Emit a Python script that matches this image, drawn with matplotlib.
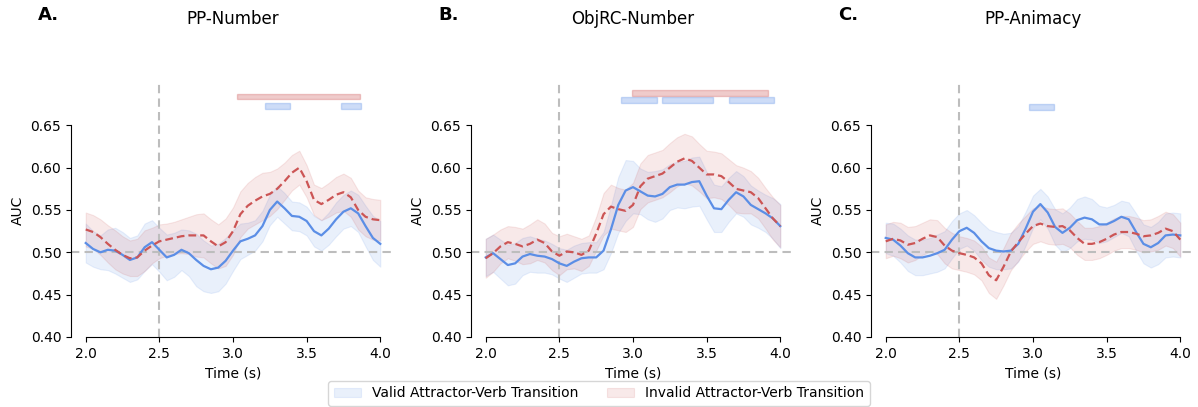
import numpy as np
import matplotlib
matplotlib.use("Agg")
import matplotlib.pyplot as plt
from matplotlib.patches import Rectangle

# Decoding time axis (s), sampled every 50 ms
time = np.linspace(2.0, 4.0, 41)

titles = ["PP-Number", "ObjRC-Number", "PP-Animacy"]
panel_letters = ["A.", "B.", "C."]

# ---- PP-Number ----
pp_num_valid = [0.511, 0.504, 0.500, 0.503, 0.502, 0.497, 0.491, 0.494, 0.506, 0.512,
                0.503, 0.494, 0.497, 0.503, 0.499, 0.491, 0.484, 0.480, 0.482, 0.490,
                0.502, 0.513, 0.516, 0.520, 0.531, 0.550, 0.560, 0.552, 0.543, 0.542,
                0.537, 0.525, 0.520, 0.528, 0.539, 0.548, 0.552, 0.546, 0.531, 0.517,
                0.510]
pp_num_valid_ci = [0.023, 0.021, 0.020, 0.024, 0.027, 0.027, 0.026, 0.026, 0.028, 0.026,
                   0.026, 0.027, 0.026, 0.024, 0.027, 0.031, 0.030, 0.028, 0.028, 0.027,
                   0.024, 0.021, 0.019, 0.018, 0.018, 0.018, 0.018, 0.018, 0.017, 0.017,
                   0.017, 0.018, 0.018, 0.019, 0.020, 0.020, 0.021, 0.022, 0.024, 0.026,
                   0.027]
pp_num_invalid = [0.527, 0.524, 0.518, 0.510, 0.503, 0.497, 0.493, 0.494, 0.502, 0.508,
                  0.513, 0.515, 0.517, 0.519, 0.520, 0.520, 0.520, 0.513, 0.507, 0.512,
                  0.525, 0.545, 0.555, 0.561, 0.566, 0.569, 0.575, 0.584, 0.594, 0.600,
                  0.584, 0.562, 0.557, 0.562, 0.568, 0.571, 0.565, 0.550, 0.542, 0.539,
                  0.538]
pp_num_invalid_ci = [0.020, 0.020, 0.021, 0.022, 0.023, 0.022, 0.021, 0.022, 0.024, 0.021,
                     0.020, 0.019, 0.019, 0.020, 0.022, 0.025, 0.026, 0.026, 0.026, 0.028,
                     0.028, 0.027, 0.027, 0.028, 0.028, 0.026, 0.024, 0.022, 0.021, 0.020,
                     0.019, 0.018, 0.019, 0.020, 0.021, 0.022, 0.023, 0.023, 0.023, 0.024,
                     0.024]

# ---- ObjRC-Number ----
objrc_num_valid = [0.494, 0.499, 0.492, 0.485, 0.487, 0.495, 0.498, 0.496, 0.495, 0.492,
                   0.487, 0.484, 0.489, 0.493, 0.494, 0.494, 0.502, 0.527, 0.556, 0.573,
                   0.577, 0.572, 0.567, 0.566, 0.569, 0.577, 0.580, 0.580, 0.583, 0.584,
                   0.567, 0.552, 0.551, 0.562, 0.571, 0.566, 0.556, 0.551, 0.546, 0.540,
                   0.531]
objrc_num_valid_ci = [0.022, 0.022, 0.023, 0.024, 0.024, 0.022, 0.021, 0.020, 0.019, 0.018,
                      0.018, 0.019, 0.019, 0.018, 0.018, 0.018, 0.022, 0.028, 0.033, 0.036,
                      0.031, 0.027, 0.028, 0.030, 0.029, 0.027, 0.027, 0.028, 0.029, 0.029,
                      0.028, 0.028, 0.027, 0.026, 0.025, 0.024, 0.023, 0.022, 0.022, 0.024,
                      0.026]
objrc_num_invalid = [0.493, 0.499, 0.507, 0.512, 0.510, 0.507, 0.510, 0.515, 0.511, 0.501,
                     0.496, 0.501, 0.500, 0.497, 0.502, 0.522, 0.545, 0.554, 0.551, 0.549,
                     0.556, 0.578, 0.587, 0.590, 0.593, 0.600, 0.607, 0.611, 0.608, 0.600,
                     0.592, 0.592, 0.590, 0.583, 0.575, 0.573, 0.571, 0.564, 0.552, 0.540,
                     0.531]
objrc_num_invalid_ci = [0.023, 0.022, 0.020, 0.019, 0.020, 0.021, 0.023, 0.024, 0.023, 0.022,
                        0.023, 0.021, 0.019, 0.019, 0.018, 0.020, 0.025, 0.026, 0.025, 0.025,
                        0.026, 0.027, 0.028, 0.028, 0.028, 0.029, 0.029, 0.029, 0.029, 0.028,
                        0.028, 0.027, 0.027, 0.027, 0.028, 0.027, 0.025, 0.024, 0.024, 0.025,
                        0.025]

# ---- PP-Animacy ----
pp_anim_valid = [0.517, 0.515, 0.508, 0.499, 0.494, 0.494, 0.496, 0.499, 0.503, 0.515,
                 0.525, 0.529, 0.523, 0.513, 0.505, 0.502, 0.501, 0.502, 0.510, 0.528,
                 0.548, 0.557, 0.547, 0.530, 0.523, 0.529, 0.538, 0.541, 0.539, 0.533,
                 0.533, 0.537, 0.542, 0.539, 0.524, 0.510, 0.506, 0.511, 0.520, 0.521,
                 0.520]
pp_anim_valid_ci = [0.018, 0.019, 0.020, 0.021, 0.021, 0.021, 0.021, 0.022, 0.022, 0.022,
                    0.021, 0.021, 0.021, 0.022, 0.022, 0.022, 0.021, 0.021, 0.021, 0.020,
                    0.019, 0.018, 0.019, 0.021, 0.023, 0.024, 0.025, 0.025, 0.024, 0.022,
                    0.020, 0.019, 0.019, 0.020, 0.022, 0.023, 0.024, 0.025, 0.026, 0.026,
                    0.026]
pp_anim_invalid = [0.513, 0.516, 0.514, 0.509, 0.511, 0.516, 0.520, 0.518, 0.508, 0.502,
                   0.499, 0.497, 0.494, 0.487, 0.473, 0.467, 0.483, 0.501, 0.512, 0.522,
                   0.531, 0.534, 0.531, 0.530, 0.531, 0.526, 0.517, 0.510, 0.510, 0.512,
                   0.516, 0.521, 0.524, 0.524, 0.522, 0.519, 0.520, 0.523, 0.528, 0.525,
                   0.515]
pp_anim_invalid_ci = [0.020, 0.020, 0.021, 0.021, 0.020, 0.019, 0.019, 0.020, 0.021, 0.021,
                      0.020, 0.020, 0.020, 0.020, 0.021, 0.022, 0.022, 0.022, 0.022, 0.021,
                      0.021, 0.021, 0.021, 0.021, 0.021, 0.020, 0.020, 0.019, 0.019, 0.019,
                      0.019, 0.019, 0.019, 0.019, 0.019, 0.019, 0.019, 0.020, 0.020, 0.020,
                      0.020]

# Significant clusters (start, end) in seconds
pp_num_valid_clusters = [(3.22, 3.39), (3.73, 3.87)]
pp_num_invalid_clusters = [(3.03, 3.86)]
objrc_num_valid_clusters = [(2.92, 3.165), (3.195, 3.54), (3.65, 3.955)]
objrc_num_invalid_clusters = [(2.99, 3.92)]
pp_anim_valid_clusters = [(2.97, 3.14)]
pp_anim_invalid_clusters = []

panels = [
    (pp_num_valid, pp_num_valid_ci, pp_num_invalid, pp_num_invalid_ci,
     pp_num_valid_clusters, pp_num_invalid_clusters),
    (objrc_num_valid, objrc_num_valid_ci, objrc_num_invalid, objrc_num_invalid_ci,
     objrc_num_valid_clusters, objrc_num_invalid_clusters),
    (pp_anim_valid, pp_anim_valid_ci, pp_anim_invalid, pp_anim_invalid_ci,
     pp_anim_valid_clusters, pp_anim_invalid_clusters),
]

# vertical placement of the cluster bars (bottom of valid bar, bottom of invalid bar)
bar_levels = [(0.6695, 0.6810), (0.6765, 0.6850), (0.6685, 0.6810)]
bar_height = 0.0065

VALID_C = "#5b8ee6"
INVALID_C = "#cc5555"
REF_C = "#bdbdbd"

fig = plt.figure(figsize=(11.98, 4.07), dpi=100)
W, H = 1198, 407
ax_lefts = [71, 471, 871]
ax_w = 324
ax_bottom = 1 - 337 / H
ax_h = (337 - 83) / H

handles = None
for i, (vm, vci, im, ici, vcl, icl) in enumerate(panels):
    ax = fig.add_axes([ax_lefts[i] / W, ax_bottom, ax_w / W, ax_h])
    vm, vci, im, ici = map(np.asarray, (vm, vci, im, ici))

    hv = ax.fill_between(time, vm - vci, vm + vci, color=VALID_C, alpha=0.13,
                         linewidth=0.8, label="Valid Attractor-Verb Transition")
    hi = ax.fill_between(time, im - ici, im + ici, color=INVALID_C, alpha=0.13,
                         linewidth=0.8, label="Invalid Attractor-Verb Transition")
    ax.plot(time, vm, color=VALID_C, lw=1.6, zorder=4)
    ax.plot(time, im, color=INVALID_C, lw=1.6, ls=(0, (3.5, 1.8)), zorder=4)

    ax.axhline(0.5, color=REF_C, lw=1.5, ls=(0, (4, 2.5)), zorder=1)
    ax.axvline(2.5, color=REF_C, lw=1.5, ls=(0, (4, 2.5)), zorder=1)

    v_lvl, i_lvl = bar_levels[i]
    for (s, e) in vcl:
        ax.add_patch(Rectangle((s, v_lvl), e - s, bar_height, facecolor=VALID_C,
                               alpha=0.3, edgecolor=VALID_C, lw=1.0, zorder=3))
    for (s, e) in icl:
        ax.add_patch(Rectangle((s, i_lvl), e - s, bar_height, facecolor=INVALID_C,
                               alpha=0.3, edgecolor=INVALID_C, lw=1.0, zorder=3))

    ax.set_xlim(1.9, 4.1)
    ax.set_ylim(0.40, 0.70)
    ax.set_xticks([2.0, 2.5, 3.0, 3.5, 4.0])
    ax.set_yticks([0.40, 0.45, 0.50, 0.55, 0.60, 0.65])
    ax.set_yticklabels(["0.40", "0.45", "0.50", "0.55", "0.60", "0.65"])
    ax.tick_params(labelsize=10)
    ax.spines["top"].set_visible(False)
    ax.spines["right"].set_visible(False)
    ax.spines["left"].set_bounds(0.40, 0.65)
    ax.spines["bottom"].set_bounds(2.0, 4.0)
    ax.set_xlabel("Time (s)", fontsize=10)
    ax.set_ylabel("AUC", fontsize=10)

    ax.text(0.5, 1.251, titles[i], transform=ax.transAxes, ha="center",
            va="center", fontsize=12)
    fig.text((ax_lefts[i] - 33) / W, 1 - 15 / H, panel_letters[i],
             ha="left", va="center", fontsize=13, fontweight="bold")
    handles = [hv, hi]

fig.legend(handles, [h.get_label() for h in handles], loc="lower center",
           bbox_to_anchor=(0.5, -0.004), borderaxespad=0.2, ncol=2,
           fontsize=10, frameon=True)

fig.savefig("out.png", dpi=100)
